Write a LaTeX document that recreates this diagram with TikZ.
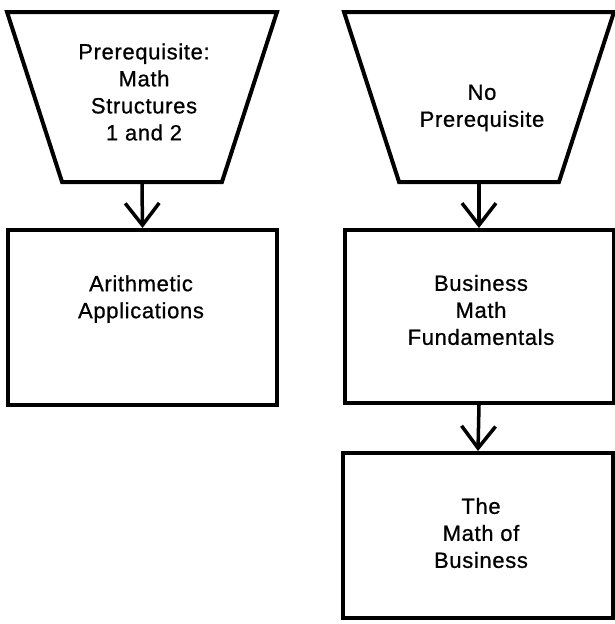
\documentclass[tikz,border=0pt]{standalone}
\usepackage{fontspec}
\setmainfont{Liberation Sans}[LetterSpace=3, FakeBold=0.8]
\usetikzlibrary{shapes.geometric,arrows.meta}

\begin{document}
\begin{tikzpicture}[x=1pt,y=-1pt,
    lbl/.style={font=\fontsize{22}{27}\selectfont, align=center},
    course/.style={draw, line width=4pt, inner sep=0pt, minimum width=269pt},
    entry/.style={draw, line width=4pt, trapezium, trapezium stretches=true,
        shape border rotate=180, trapezium angle=71, inner sep=2pt,
        minimum width=270pt, minimum height=170pt},
    flow/.style={line width=3.5pt, -{Straight Barb[length=22pt,width=34pt,line width=3.5pt]}}]
    \useasboundingbox (0,0) rectangle (614,624);

    % entry requirements
    \node[entry] (pre1) at (142,97) {};
    \node[entry] (pre2) at (479,97) {};
    \node[lbl] (pre1txt) at (144,92) {Prerequisite:\\Math\\Structures\\1 and 2};
    \node[lbl] (pre2txt) at (482,108) {No\\Prerequisite};

    % courses
    \node[course, minimum height=175pt] (arith) at (142.5,317.5) {};
    \node[course, minimum height=173pt] (bmf) at (479,316.5) {};
    \node[course, minimum height=165pt, minimum width=270pt] (tmb) at (478,535.5) {};
    \node[lbl] (arithtxt) at (141,299) {Arithmetic\\Applications};
    \node[lbl] (bmftxt) at (481,310) {Business\\Math\\Fundamentals};
    \node[lbl] (tmbtxt) at (481,533) {The\\Math of\\Business};

    \draw[flow] (pre1.south) -- (arith.north);
    \draw[flow] (pre2.south) -- (bmf.north);
    \draw[flow] (bmf.south) -- (tmb.north);
\end{tikzpicture}
\end{document}
